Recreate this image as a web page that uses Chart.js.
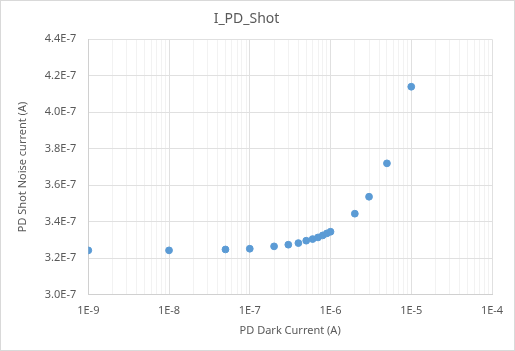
<!DOCTYPE html>
<html>
<head>
<meta charset="utf-8">
<script src="https://cdn.jsdelivr.net/npm/chart.js@4"></script>
<style>
  html, body { margin: 0; padding: 0; background: #fff; }
  #wrap { width: 513px; height: 349px; border: 1px solid #d9d9d9; }
</style>
</head>
<body>
<div id="wrap"><canvas id="chart" width="513" height="349"></canvas></div>
<script>
// PD dark current (A)
var darkCurrent = [1e-9, 1e-8, 5e-8, 1e-7, 2e-7, 3e-7, 4e-7, 5e-7, 6e-7, 7e-7, 8e-7, 9e-7, 1e-6, 2e-6, 3e-6, 5e-6, 1e-5];
// PD shot noise current (A)
var shotNoise = [3.243e-7, 3.243e-7, 3.248e-7, 3.252e-7, 3.265e-7, 3.274e-7, 3.283e-7, 3.296e-7, 3.305e-7, 3.314e-7, 3.325e-7, 3.336e-7, 3.345e-7, 3.444e-7, 3.537e-7, 3.720e-7, 4.140e-7];

var xDecades = [1e-9, 1e-8, 1e-7, 1e-6, 1e-5, 1e-4];
var yTicks = [3.0e-7, 3.2e-7, 3.4e-7, 3.6e-7, 3.8e-7, 4.0e-7, 4.2e-7, 4.4e-7];

var points = [];
for (var i = 0; i < darkCurrent.length; i++) {
    points.push({x: darkCurrent[i], y: shotNoise[i]});
}

// log axis ticks: decades plus 2..9 minor lines
var xTickValues = [];
for (var d = 0; d < xDecades.length; d++) {
    xTickValues.push({value: xDecades[d], major: true});
    if (d < xDecades.length - 1) {
        for (var m = 2; m <= 9; m++) {
            xTickValues.push({value: parseFloat((xDecades[d] * m).toPrecision(3)), major: false});
        }
    }
}

var textColor = '#595959';
var font = 'Noto Sans';

var ctx = document.getElementById('chart').getContext('2d');
var chart = new Chart(ctx, {
    type: 'scatter',
    data: {
        datasets: [{
            label: 'I_PD_Shot',
            data: points,
            backgroundColor: '#5b9bd5',
            borderColor: '#5b9bd5',
            pointRadius: 3.4,
            pointHoverRadius: 3.4
        }]
    },
    options: {
        animation: false,
        responsive: false,
        layout: { padding: { left: 0, right: 22, top: 0, bottom: 0 } },
        plugins: {
            legend: { display: false },
            tooltip: { enabled: false },
            title: {
                display: true,
                text: 'I_PD_Shot',
                color: textColor,
                font: { family: font, size: 14, weight: 'normal' },
                padding: { top: 10, bottom: 11.5 }
            }
        },
        scales: {
            x: {
                type: 'logarithmic',
                min: 1e-9,
                max: 1e-4,
                afterBuildTicks: function (axis) {
                    axis.ticks = xTickValues.map(function (t) { return {value: t.value, major: t.major}; });
                },
                afterFit: function (axis) { axis.height = 55.3; },
                border: { color: '#d0d0d0', width: 1 },
                grid: {
                    drawTicks: false,
                    color: function (c) {
                        return c.tick && c.tick.major ? '#e0e0e0' : '#f2f2f2';
                    }
                },
                ticks: {
                    autoSkip: false,
                    maxRotation: 0,
                    minRotation: 0,
                    padding: 10,
                    color: textColor,
                    font: { family: font, size: 11 },
                    callback: function (value, index, ticks) {
                        return ticks[index].major ? value.toExponential(0).toUpperCase().replace('+', '') : '';
                    }
                },
                title: {
                    display: true,
                    text: 'PD Dark Current (A)',
                    color: textColor,
                    font: { family: font, size: 11 },
                    padding: { top: 6.5, bottom: 12.4 }
                }
            },
            y: {
                min: 3.0e-7,
                max: 4.4e-7,
                afterBuildTicks: function (axis) {
                    axis.ticks = yTicks.map(function (v) { return {value: v}; });
                },
                afterFit: function (axis) { axis.width = 87.3; },
                border: { color: '#d0d0d0', width: 1 },
                grid: { drawTicks: false, color: '#e0e0e0' },
                ticks: {
                    padding: 12,
                    color: textColor,
                    font: { family: font, size: 11 },
                    callback: function (value) {
                        return value.toExponential(1).toUpperCase().replace('+', '');
                    }
                },
                title: {
                    display: true,
                    text: 'PD Shot Noise current (A)',
                    color: textColor,
                    font: { family: font, size: 11 },
                    padding: { top: 15, bottom: 0 }
                }
            }
        }
    }
});
</script>
</body>
</html>
